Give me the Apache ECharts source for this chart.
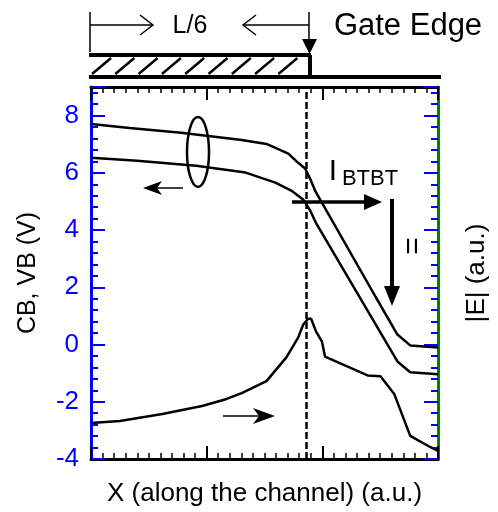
<!DOCTYPE html>
<html><head><meta charset="utf-8">
<script src="https://cdn.jsdelivr.net/npm/echarts@6/dist/echarts.min.js"></script>
<style>html,body{margin:0;padding:0;background:#fff}#wrap{position:relative;width:498px;height:512px}#c,#o{position:absolute;left:0;top:0;width:498px;height:512px}#o{pointer-events:none}</style>
</head><body><div id="wrap"><div id="c"></div><div id="o"></div></div>
<script>
// ---- data ----
const cbX = [0, 0.334, 0.78, 1.303, 1.517, 1.706, 1.791, 1.851, 1.894, 1.937, 2.46, 2.649, 2.76, 3.0];
const cbY = [7.71, 7.57, 7.40, 7.15, 7.01, 6.67, 6.35, 6.15, 5.80, 5.38, 1.67, 0.35, -0.03, -0.10];
const vbX = [0, 0.40, 0.909, 1.337, 1.594, 1.731, 1.834, 1.894, 1.946, 2.649, 2.76, 3.0];
const vbY = [6.53, 6.42, 6.25, 6.01, 5.66, 5.38, 5.07, 4.69, 4.24, -0.59, -0.97, -1.04];
const eX = [0, 0.249, 0.617, 0.96, 1.166, 1.303, 1.517, 1.689, 1.791, 1.834, 1.877, 1.903, 1.946, 1.997, 2.023, 2.391, 2.503, 2.623, 2.76, 2.931, 3.0];
const eY = [-2.74, -2.67, -2.43, -2.15, -1.91, -1.70, -1.28, -0.45, 0.24, 0.69, 0.90, 0.90, 0.45, 0.10, -0.42, -1.08, -1.11, -1.74, -3.19, -3.58, -3.72];
const gateX = 1.86;
const yTicks = [-4, -2, 0, 2, 4, 6, 8];
const xName = 'X (along the channel) (a.u.)';
const yName = 'CB, VB (V)';
const y2Name = '|E| (a.u.)';

const FONT = '"Liberation Sans", Arial, sans-serif';
const BLUE = '#0000ff', GREEN = '#008000';
const pairs = (xs, ys) => xs.map((x, i) => [x, ys[i]]);

function xAxisOpt(pos, extra) {
  return Object.assign({
    type: 'value', min: 0, max: 3, interval: 1, position: pos,
    axisLine: {show: true, onZero: false, lineStyle: {color: '#000', width: 3}},
    axisTick: {show: true, inside: true, length: 13, lineStyle: {color: '#000', width: 2}},
    minorTick: {show: true, splitNumber: 10, length: 6, lineStyle: {color: '#000', width: 1.5}},
    axisLabel: {show: false}, splitLine: {show: false}
  }, extra || {});
}
function yAxisOpt(pos, lineColor, extra) {
  return Object.assign({
    type: 'value', min: -4, max: 9, interval: 2, position: pos,
    axisLine: {show: true, onZero: false, lineStyle: {color: lineColor, width: 3}},
    axisTick: {show: true, inside: true, length: 14, lineStyle: {color: BLUE, width: 2}},
    minorTick: {show: true, splitNumber: 5, length: 7, lineStyle: {color: BLUE, width: 2}},
    splitLine: {show: false}
  }, extra || {});
}
const arrowLine = (x1, y1, x2, y2, w) => ({type: 'line', shape: {x1, y1, x2, y2}, style: {stroke: '#000', lineWidth: w}, z: 100});
const tri = (pts) => ({type: 'polygon', shape: {points: pts}, style: {fill: '#000'}, z: 100});
const txt = (x, y, t, size, extra) => Object.assign({type: 'text', x, y, style: {text: t, font: size + 'px ' + FONT, fill: '#000', align: 'center', verticalAlign: 'middle'}, z: 100}, extra || {});

const hatch = [];
for (let i = 0; i < 9; i++) {
  const bx = 92 + 23.3 * i;
  hatch.push(arrowLine(bx, 74, bx + 19, 58, 2.5));
}

const chart = echarts.init(document.getElementById('c'));
chart.setOption({
  animation: false,
  grid: {left: 91, right: 57, top: 87, bottom: 52},
  xAxis: [
    xAxisOpt('bottom', {name: xName, nameLocation: 'middle', nameGap: 22,
      nameTextStyle: {fontSize: 26, color: '#000', fontFamily: FONT}}),
    xAxisOpt('top')
  ],
  yAxis: [
    yAxisOpt('left', BLUE, {
      axisLabel: {show: true, color: BLUE, fontSize: 26, fontFamily: FONT, margin: 12,
        formatter: v => yTicks.includes(v) ? String(v) : ''},
      name: yName, nameLocation: 'middle', nameGap: 50, nameRotate: 90,
      nameTextStyle: {fontSize: 25, color: '#000', fontFamily: FONT}}),
    yAxisOpt('right', GREEN, {
      axisLabel: {show: false},
      name: y2Name, nameLocation: 'middle', nameGap: 26, nameRotate: 90,
      nameTextStyle: {fontSize: 26, color: '#000', fontFamily: FONT}})
  ],
  series: [
    {type: 'line', data: pairs(cbX, cbY), symbol: 'none', lineStyle: {color: '#000', width: 2.5},
      markLine: {silent: true, symbol: 'none', label: {show: false},
        lineStyle: {color: '#000', width: 2.5, type: [7, 3]}, data: [{xAxis: gateX}]}},
    {type: 'line', data: pairs(vbX, vbY), symbol: 'none', lineStyle: {color: '#000', width: 2.5}},
    {type: 'line', data: pairs(eX, eY), symbol: 'none', lineStyle: {color: '#000', width: 2.5}}
  ]
});

// annotations (gate sketch, arrows, labels) drawn in a transparent overlay instance
const overlay = echarts.init(document.getElementById('o'));
overlay.setOption({
  animation: false,
  graphic: [
    arrowLine(90, 12, 90, 52, 1.5),
    arrowLine(90, 25, 152, 25, 1.5),
    {type: 'polyline', shape: {points: [[140, 15], [153, 25], [140, 35]]}, style: {stroke: '#000', lineWidth: 1.5, fill: 'none'}, z: 100},
    arrowLine(309, 12, 309, 42, 1.5),
    arrowLine(309, 25, 243, 25, 1.5),
    {type: 'polyline', shape: {points: [[256, 15], [243, 25], [256, 35]]}, style: {stroke: '#000', lineWidth: 1.5, fill: 'none'}, z: 100},
    tri([[302, 39], [317, 39], [309.5, 54]]),
    txt(190, 26, 'L/6', 25),
    txt(408, 26, 'Gate Edge', 31),
    arrowLine(89, 55, 311, 55, 4),
    arrowLine(310, 55, 310, 77, 4),
    arrowLine(89, 77, 441, 77, 4),
    ...hatch,
    {type: 'ellipse', shape: {cx: 198, cy: 152, rx: 11, ry: 35}, style: {stroke: '#000', lineWidth: 2.5, fill: 'none'}, z: 100},
    arrowLine(183, 188, 152, 188, 1.5),
    tri([[143, 188], [162, 181], [157, 188], [162, 195]]),
    arrowLine(223, 416, 266, 416, 1.5),
    tri([[275, 416], [253, 408], [259, 416], [253, 424]]),
    arrowLine(292, 202, 368, 202, 3.5),
    tri([[382, 202], [364, 194], [364, 210]]),
    arrowLine(392, 199, 392, 288, 4),
    tri([[392, 306], [384, 286], [400, 286]]),
    txt(333, 172, 'I', 30),
    txt(370, 179, 'BTBT', 22),
    txt(414, 246, '=', 30, {rotation: Math.PI / 2})
  ]
});
</script></body></html>
